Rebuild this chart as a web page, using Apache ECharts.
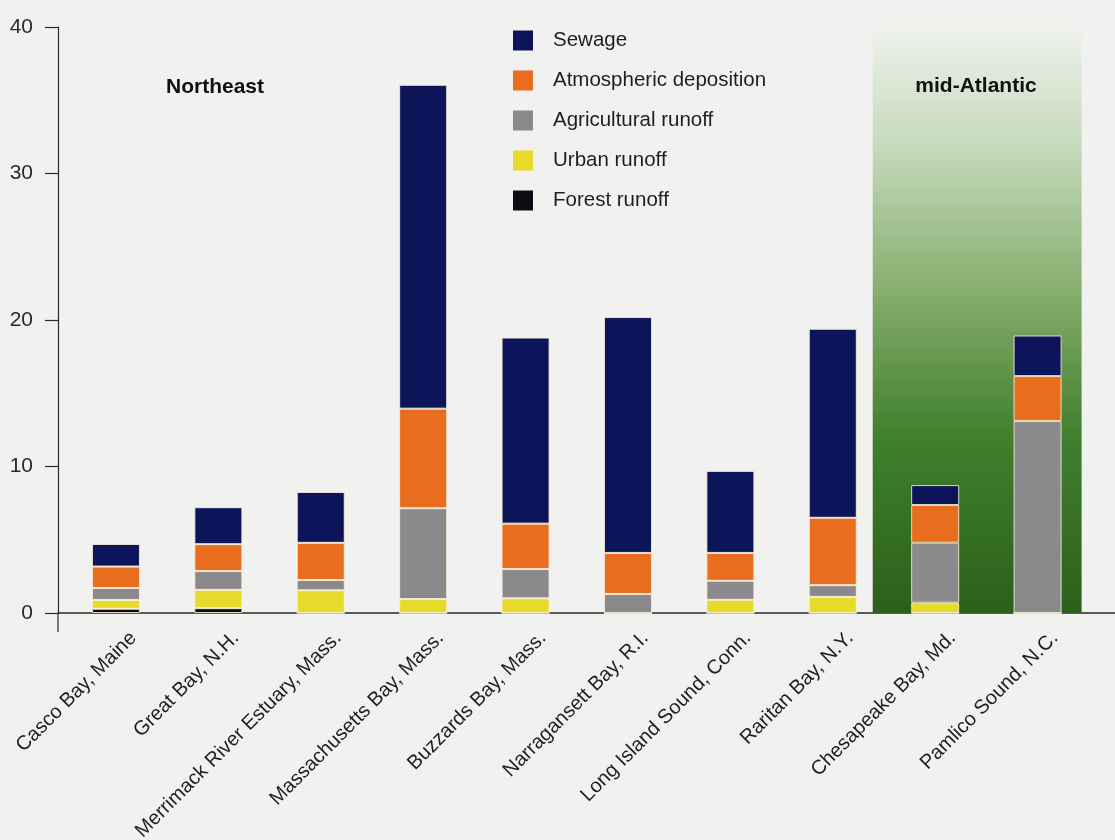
<!DOCTYPE html>
<html>
<head>
<meta charset="utf-8">
<script src="https://cdn.jsdelivr.net/npm/echarts@6/dist/echarts.min.js"></script>
<style>
html,body{margin:0;padding:0;background:#f1f1ef;}
#chart{width:1115px;height:840px;}
</style>
</head>
<body>
<div id="chart"></div>
<script>
// ---- Data ----
var categories = ["Casco Bay, Maine","Great Bay, N.H.","Merrimack River Estuary, Mass.","Massachusetts Bay, Mass.","Buzzards Bay, Mass.","Narragansett Bay, R.I.","Long Island Sound, Conn.","Raritan Bay, N.Y.","Chesapeake Bay, Md.","Pamlico Sound, N.C."];
var sewage      = [1.54, 2.52, 3.47, 22.1, 12.7, 16.1, 5.6, 12.9, 1.36, 2.77];
var atmospheric = [1.46, 1.84, 2.54, 6.8, 3.1, 2.8, 1.9, 4.6, 2.57, 3.07];
var agricultural= [0.82, 1.28, 0.7, 6.2, 2.0, 1.3, 1.3, 0.8, 4.1, 13.1];
var urban       = [0.6, 1.25, 1.55, 0.95, 1.0, 0, 0.9, 1.1, 0.7, 0];
var forest      = [0.29, 0.33, 0, 0, 0, 0, 0, 0, 0, 0];
var seriesNames = ["Sewage","Atmospheric deposition","Agricultural runoff","Urban runoff","Forest runoff"];
var yTicks = [0, 10, 20, 30, 40];
var regionLabels = ["Northeast", "mid-Atlantic"];
// mid-Atlantic shaded band (in category-index units)
var midAtlanticBand = [7.39, 9.43];

// ---- Chart ----
var FONT = "'Liberation Sans', Arial, Helvetica, sans-serif";
var colors = {
  "Sewage": "#0c1559",
  "Atmospheric deposition": "#e86d1e",
  "Agricultural runoff": "#8a8a8c",
  "Urban runoff": "#e7da2b",
  "Forest runoff": "#0b0b12"
};
var labelShift = 0.17;
// value first, category index second (so stacking applies to the value dimension)
function pts(arr){ return arr.map(function(v,i){ return [v, i]; }); }

var stackOrder = [
  ["Forest runoff", forest],
  ["Urban runoff", urban],
  ["Agricultural runoff", agricultural],
  ["Atmospheric deposition", atmospheric],
  ["Sewage", sewage]
];

var series = stackOrder.map(function(s, idx){
  var o = {
    name: s[0],
    type: 'bar',
    stack: 'total',
    barWidth: 48,
    dimensions: ['val', 'idx'],
    encode: { x: 'idx', y: 'val' },
    data: pts(s[1]),
    itemStyle: { color: colors[s[0]], borderColor: 'rgba(250,240,215,0.85)', borderWidth: 1 },
    emphasis: { disabled: true },
    z: 3
  };
  if (idx === 0) {
    o.markArea = {
      silent: true,
      z: 1,
      itemStyle: {
        color: new echarts.graphic.LinearGradient(0, 0, 0, 1, [
          {offset: 0, color: '#eef2ec'},
          {offset: 0.2, color: '#c6dabd'},
          {offset: 0.45, color: '#86ae6e'},
          {offset: 0.7, color: '#417f2c'},
          {offset: 1, color: '#2b611b'}
        ])
      },
      data: [[{xAxis: midAtlanticBand[0], yAxis: 40.8}, {xAxis: midAtlanticBand[1], yAxis: 0}]]
    };
  }
  return o;
});

var chart = echarts.init(document.getElementById('chart'));
chart.setOption({
  backgroundColor: '#f1f1ef',
  animation: false,
  textStyle: { fontFamily: FONT },
  grid: { left: 58, right: 0, top: 27, bottom: 227, containLabel: false, outerBoundsMode: 'none' },
  legend: {
    data: seriesNames,
    orient: 'vertical',
    left: 513,
    top: 30,
    itemWidth: 20,
    itemHeight: 20,
    itemGap: 19,
    padding: 0,
    icon: 'rect',
    itemStyle: { borderWidth: 0 },
    textStyle: { fontSize: 20.5, lineHeight: 20, color: '#1e1e1e', fontFamily: FONT, padding: [0, 0, 0, 15] },
    selectedMode: false
  },
  xAxis: {
    type: 'value',
    min: -0.566,
    max: 9.756,
    splitLine: { show: false },
    axisTick: { show: false },
    axisLine: { show: true, onZero: false, lineStyle: { color: '#2a2a2a', width: 1.5 } },
    axisLabel: {
      customValues: categories.map(function(c, i){ return i + labelShift; }),
      formatter: function(v){ return categories[Math.round(v - labelShift)] || ''; },
      rotate: 45,
      margin: 22,
      fontSize: 20,
      color: '#1e1e1e',
      fontFamily: FONT
    }
  },
  yAxis: {
    type: 'value',
    min: 0,
    max: 40,
    interval: 10,
    splitLine: { show: false },
    axisLine: { show: true, onZero: false, lineStyle: { color: '#2a2a2a', width: 1.2 } },
    axisTick: { show: true, inside: false, length: 13, lineStyle: { color: '#2a2a2a', width: 1.2 } },
    axisLabel: {
      customValues: yTicks,
      margin: 25,
      fontSize: 21,
      color: '#2a2a2a',
      fontFamily: FONT
    }
  },
  graphic: [
    { type: 'text', x: 215, y: 87, style: { text: regionLabels[0], font: 'bold 21px ' + FONT, fill: '#111', align: 'center', verticalAlign: 'middle' }, z: 10 },
    { type: 'text', x: 976, y: 86, style: { text: regionLabels[1], font: 'bold 21px ' + FONT, fill: '#111', align: 'center', verticalAlign: 'middle' }, z: 10 },
    { type: 'line', shape: { x1: 58, y1: 613, x2: 58, y2: 632 }, style: { stroke: '#2a2a2a', lineWidth: 1.2 }, z: 10 }
  ],
  series: series
});
</script>
</body>
</html>
